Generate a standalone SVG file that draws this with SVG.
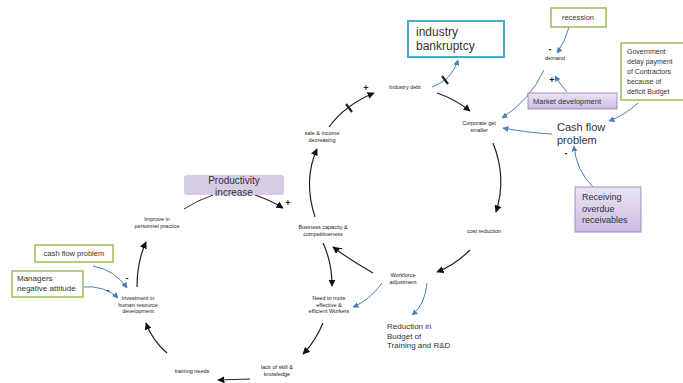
<svg xmlns="http://www.w3.org/2000/svg" width="683" height="383" viewBox="0 0 683 383">
<defs>
<marker id="ab" viewBox="0 0 10 10" refX="9" refY="5" markerWidth="6" markerHeight="6" orient="auto"><path d="M0,0 L10,5 L0,10 z" fill="#111"/></marker>
<marker id="au" viewBox="0 0 10 10" refX="9" refY="5" markerWidth="6" markerHeight="6" orient="auto"><path d="M0,0 L10,5 L0,10 z" fill="#4a7ebb"/></marker>
<linearGradient id="pg" x1="0" y1="0" x2="0" y2="1"><stop offset="0" stop-color="#ece4f4"/><stop offset="1" stop-color="#cbbbe0"/></linearGradient>
</defs>
<style>
.t{font-family:"Liberation Sans",Arial,sans-serif;font-size:5.5px;fill:#222;text-anchor:middle}
.m{font-family:"Liberation Sans",Arial,sans-serif;fill:#333}
.bk{fill:none;stroke:#222;stroke-width:1.2;marker-end:url(#ab)}
.bl{fill:none;stroke:#4a7ebb;stroke-width:1;marker-end:url(#au)}
.gb{fill:#fff;stroke:#9bbb59;stroke-width:1.5}
.pb{fill:url(#pg);stroke:#9e8bbf;stroke-width:1}
.sg{font-family:"Liberation Sans",sans-serif;font-size:9px;font-weight:bold;fill:#222;text-anchor:middle}
</style>
<rect width="683" height="383" fill="#fff"/>
<g id="connectors">
<path class="bk" d="M315,217 Q303,180 317,149"/>
<path class="bk" d="M329,127 Q345,105 374,93"/>
<path class="bk" d="M437,93 Q455,99 470,111"/>
<path class="bk" d="M493,143 Q507,178 496,212"/>
<path class="bk" d="M470,250 Q455,265 437,272"/>
<path class="bk" d="M373,273 Q350,260 333,247"/>
<path class="bk" d="M323,243 Q332,262 332,286"/>
<path class="bk" d="M323,323 Q315,342 303,354"/>
<path class="bk" d="M250,379 L218,380"/>
<path class="bk" d="M167,353 Q152,340 146,323"/>
<path class="bk" d="M137,287 Q137,262 146,242"/>
<path fill="none" stroke="#333" stroke-width="1" d="M184,209 Q198,200 213,195"/>
<path class="bk" d="M255,195 Q270,200 283,208"/>
<path class="bl" d="M432,87 Q452,80 458,60"/>
<path class="bl" d="M569,27 Q565,42 557,53"/>
<path class="bl" d="M567,92 Q560,84 555,76"/>
<path class="bl" d="M544,70 Q530,100 502,118"/>
<path class="bl" d="M638,103 Q625,115 609,121"/>
<path class="bl" d="M552,134 Q530,133 503,128"/>
<path class="bl" d="M593,187 Q576,170 574,146"/>
<path class="bl" d="M382,283 Q370,300 353,307"/>
<path class="bl" d="M427,283 Q425,305 412,315"/>
<path class="bl" d="M93,266 Q115,270 127,288"/>
<path class="bl" d="M81,287 Q105,285 118,298"/>
<path stroke="#222" stroke-width="2.2" d="M442,76 L448,84"/>
<path stroke="#222" stroke-width="2.2" d="M346,104 L352,112"/>
<text class="sg" x="288" y="206">+</text>
<text class="sg" x="366" y="91">+</text>
<text class="sg" x="341" y="251">-</text>
<text class="sg" x="550" y="52">-</text>
<text class="sg" x="552" y="83">+</text>
<text class="sg" x="566" y="156">-</text>
<text class="sg" x="127" y="281">-</text>
<text class="sg" x="108" y="293">-</text>
</g>
<g id="industry-bankruptcy"><rect x="408" y="21" width="96" height="36" fill="#fff" stroke="#4bacc6" stroke-width="2"/><text class="m" font-size="12" x="416" y="36">industry</text><text class="m" font-size="12" x="416" y="50">bankruptcy</text></g>
<g id="recession"><rect class="gb" x="551" y="8" width="55" height="19"/><text class="m" font-size="7.5" x="578" y="20" text-anchor="middle">recession</text></g>
<g id="demand"><text class="t" x="555" y="60">demand</text></g>
<g id="market-development"><rect class="pb" x="528" y="93" width="89" height="16"/><text class="m" font-size="7.5" x="567" y="103.5" text-anchor="middle">Market development</text></g>
<g id="government"><rect class="gb" x="621" y="43" width="64" height="57"/><text class="m" font-size="7" x="627" y="54">Government</text><text class="m" font-size="7" x="627" y="64">delay payment</text><text class="m" font-size="7" x="627" y="74">of Contractors</text><text class="m" font-size="7" x="627" y="84">because of</text><text class="m" font-size="7" x="627" y="94">deficit Budget</text></g>
<g id="industry-debt"><text class="t" x="405" y="89">Industry debt</text></g>
<g id="corporate"><text class="t" x="479" y="125">Corporate get</text><text class="t" x="479" y="132">smaller</text></g>
<g id="cash-flow-problem"><text class="m" font-size="11" x="557" y="131">Cash flow</text><text class="m" font-size="11" x="557" y="144">problem</text></g>
<g id="receiving"><rect class="pb" x="575" y="187" width="66" height="45"/><text class="m" font-size="9" x="582" y="200">Receiving</text><text class="m" font-size="9" x="582" y="211.5">overdue</text><text class="m" font-size="9" x="582" y="223">receivables</text></g>
<g id="cost-reduction"><text class="t" x="484" y="233">cost  reduction</text></g>
<g id="workforce"><text class="t" x="403" y="277">Workforce</text><text class="t" x="403" y="284">adjustment</text></g>
<g id="business"><text class="t" x="323" y="229">Business capacity &amp;</text><text class="t" x="323" y="236">competitiveness</text></g>
<g id="need"><text class="t" x="329" y="300">Need to more</text><text class="t" x="329" y="306.5">effective &amp;</text><text class="t" x="329" y="313">efficient  Workers</text></g>
<g id="reduction"><text class="m" font-size="8" x="387" y="329">Reduction in</text><text class="m" font-size="8" x="387" y="338.5">Budget of</text><text class="m" font-size="8" x="387" y="348">Training and R&amp;D</text></g>
<g id="lack"><text class="t" x="277" y="369">lack of skill &amp;</text><text class="t" x="277" y="376">knowledge</text></g>
<g id="training"><text class="t" x="192" y="373">training needs</text></g>
<g id="investment"><text class="t" x="138" y="300">Investment in</text><text class="t" x="138" y="306.5">human resource</text><text class="t" x="138" y="313">development</text></g>
<g id="improve"><text class="t" x="157" y="221">Improve in</text><text class="t" x="157" y="227.5">personnel practice</text></g>
<g id="sale"><text class="t" x="322" y="135">sale &amp; income</text><text class="t" x="322" y="142">decreasing</text></g>
<g id="productivity"><rect x="184" y="175" width="100" height="20" rx="3" fill="#d6cce5"/><text class="m" font-size="10" x="234" y="184" text-anchor="middle">Productivity</text><text class="m" font-size="10" x="234" y="196" text-anchor="middle">increase</text></g>
<g id="cash-flow-box"><rect class="gb" x="35" y="245" width="78" height="17"/><text class="m" font-size="7.5" x="74" y="256" text-anchor="middle">cash flow problem</text></g>
<g id="managers"><rect class="gb" x="12" y="271" width="71" height="26"/><text class="m" font-size="8" x="17" y="281">Managers</text><text class="m" font-size="8" x="17" y="291">negative attitude</text></g>
</svg>
